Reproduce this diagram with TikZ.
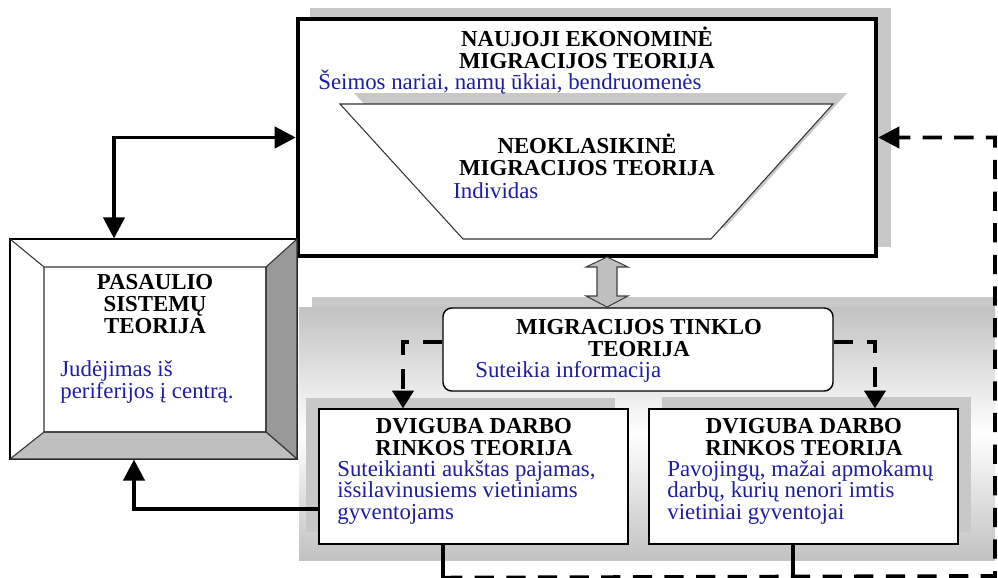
\documentclass[tikz,border=0pt]{standalone}
\usepackage{fontspec}
\setmainfont{Liberation Serif}
\usetikzlibrary{arrows.meta, positioning, calc, fit}
\definecolor{notecol}{RGB}{30,30,160}
\definecolor{shadecol}{RGB}{200,200,200}
\tikzset{
  frame/.style = {draw, fill=white, inner sep=0pt},
  heading/.style = {font=\fontsize{13}{12.5}\selectfont\bfseries, align=center, inner sep=0pt, anchor=base},
  note/.style = {font=\fontsize{13}{12}\selectfont, text=notecol, align=left, inner sep=0pt, anchor=base west},
  bigtip/.tip = {Triangle[length=12pt, width=12pt]},
  link/.style = {line width=2.2pt, -bigtip},
  dashlink/.style = {line width=2.2pt, dash pattern=on 11pt off 7pt, -bigtip},
  netlink/.style = {line width=2pt, dash pattern=on 11pt off 8pt, -{Triangle[length=10pt, width=12pt]}},
}

\begin{document}
\begin{tikzpicture}[x=0.02cm, y=-0.02cm]
	\useasboundingbox (0,0) rectangle (998,578);
	
	% top box
	\fill[shadecol] (310,8) rectangle (891,247);
	\node (naujoji) [frame, line width=2.5pt, fit={(298,19) (876,256)}] {};
	\fill[shadecol] (354,93) -- (847,93) -- (725,228) -- (477,228) -- cycle;
	\filldraw[fill=white, draw=black!80, line width=0.6pt] (340,104) -- (833,104) -- (711,239) -- (463,239) -- cycle;
	
	% (base = last line)
	\node (naujoji-title) [heading] at (587,68) {NAUJOJI EKONOMINĖ\\MIGRACIJOS TEORIJA};
	\node (naujoji-note) [note] at (318,89) {Šeimos nariai, namų ūkiai, bendruomenės};
	\node (neoklas-title) [heading] at (587,175) {NEOKLASIKINĖ\\MIGRACIJOS TEORIJA};
	\node (neoklas-note) [note] at (453,198) {Individas};
	
	% world systems box
	\node (pasaulis) [frame, line width=0.6pt, fit={(10,239) (297,459)}] {};
	\filldraw[fill=black!40, draw=black!80, line width=0.6pt] (297,239) -- (297,459) -- (266,432) -- (266,267) -- cycle;
	\filldraw[fill=black!25, draw=black!80, line width=0.6pt] (10,459) -- (297,459) -- (266,432) -- (44,432) -- cycle;
	\draw[black!80, line width=0.6pt] (10,239) -- (44,267) (44,267) rectangle (266,432);
	
	\node (pasaulis-title) [heading] at (155,333) {PASAULIO\\SISTEMŲ\\TEORIJA};
	\node (pasaulis-note) [note] at (60,398) {Judėjimas iš\\periferijos į centrą.};
	
	% lower panel
	\fill[shadecol] (312,297) rectangle (995,550);
	\shade[top color=black!24, bottom color=black!24, middle color=white] (299,307) rectangle (995,560);
	
	\node (tinklo) [frame, rounded corners=5pt, line width=0.8pt, fit={(443,308) (833,391)}] {};
	\node (tinklo-title) [heading] at (639,356) {MIGRACIJOS TINKLO\\TEORIJA};
	\node (tinklo-note) [note] at (475,377) {Suteikia informacija};
	
	\fill[shadecol] (306,398) rectangle (615,532);
	\fill[shadecol] (662,397) rectangle (971,532);
	\node (darbo-left) [frame, line width=0.8pt, fit={(319,409) (628,544)}] {};
	\node (darbo-right) [frame, line width=0.8pt, fit={(649,409) (958,544)}] {};
	
	\node (darbo-left-title) [heading] at (474,455) {DVIGUBA DARBO\\RINKOS TEORIJA};
	\node (darbo-left-note) [note] at (337,519) {Suteikianti aukštas pajamas,\\išsilavinusiems vietiniams\\gyventojams};
	\node (darbo-right-title) [heading] at (804,455) {DVIGUBA DARBO\\RINKOS TEORIJA};
	\node (darbo-right-note) [note] at (667,519) {Pavojingų, mažai apmokamų\\darbų, kurių nenori imtis\\vietiniai gyventojai};
	
	% arrows
	\draw[link, bigtip-bigtip] (naujoji.west) -| ([xshift=-0.79cm]pasaulis.north);
	\draw[link] ([yshift=-0.65cm]darbo-left.west) -| ([xshift=-0.39cm]pasaulis.south);
	\draw[netlink] ([yshift=0.15cm]tinklo.west) -| ([xshift=-1.41cm]darbo-left.north);
	\draw[netlink] ([yshift=0.15cm]tinklo.east) -| ([xshift=1.43cm]darbo-right.north);
	
	\draw[line width=2.2pt] ([xshift=-0.61cm]darbo-left.south) -- ++(0,33) coordinate (loop-start);
	\draw[line width=2.2pt] ([xshift=-0.21cm]darbo-right.south) -- ++(0,33);
	\coordinate (loop-corner) at (995,576);
	\draw[dashlink] (loop-start) -- (loop-corner) |- (naujoji.east);
	
	\filldraw[fill=black!25, draw=black!75, line width=0.6pt] (607,257) -- (628,267) -- (617,267) -- (617,296) -- (628,296) -- (607,307) -- (586,296) -- (597,296) -- (597,267) -- (586,267) -- cycle;
\end{tikzpicture}
\end{document}
